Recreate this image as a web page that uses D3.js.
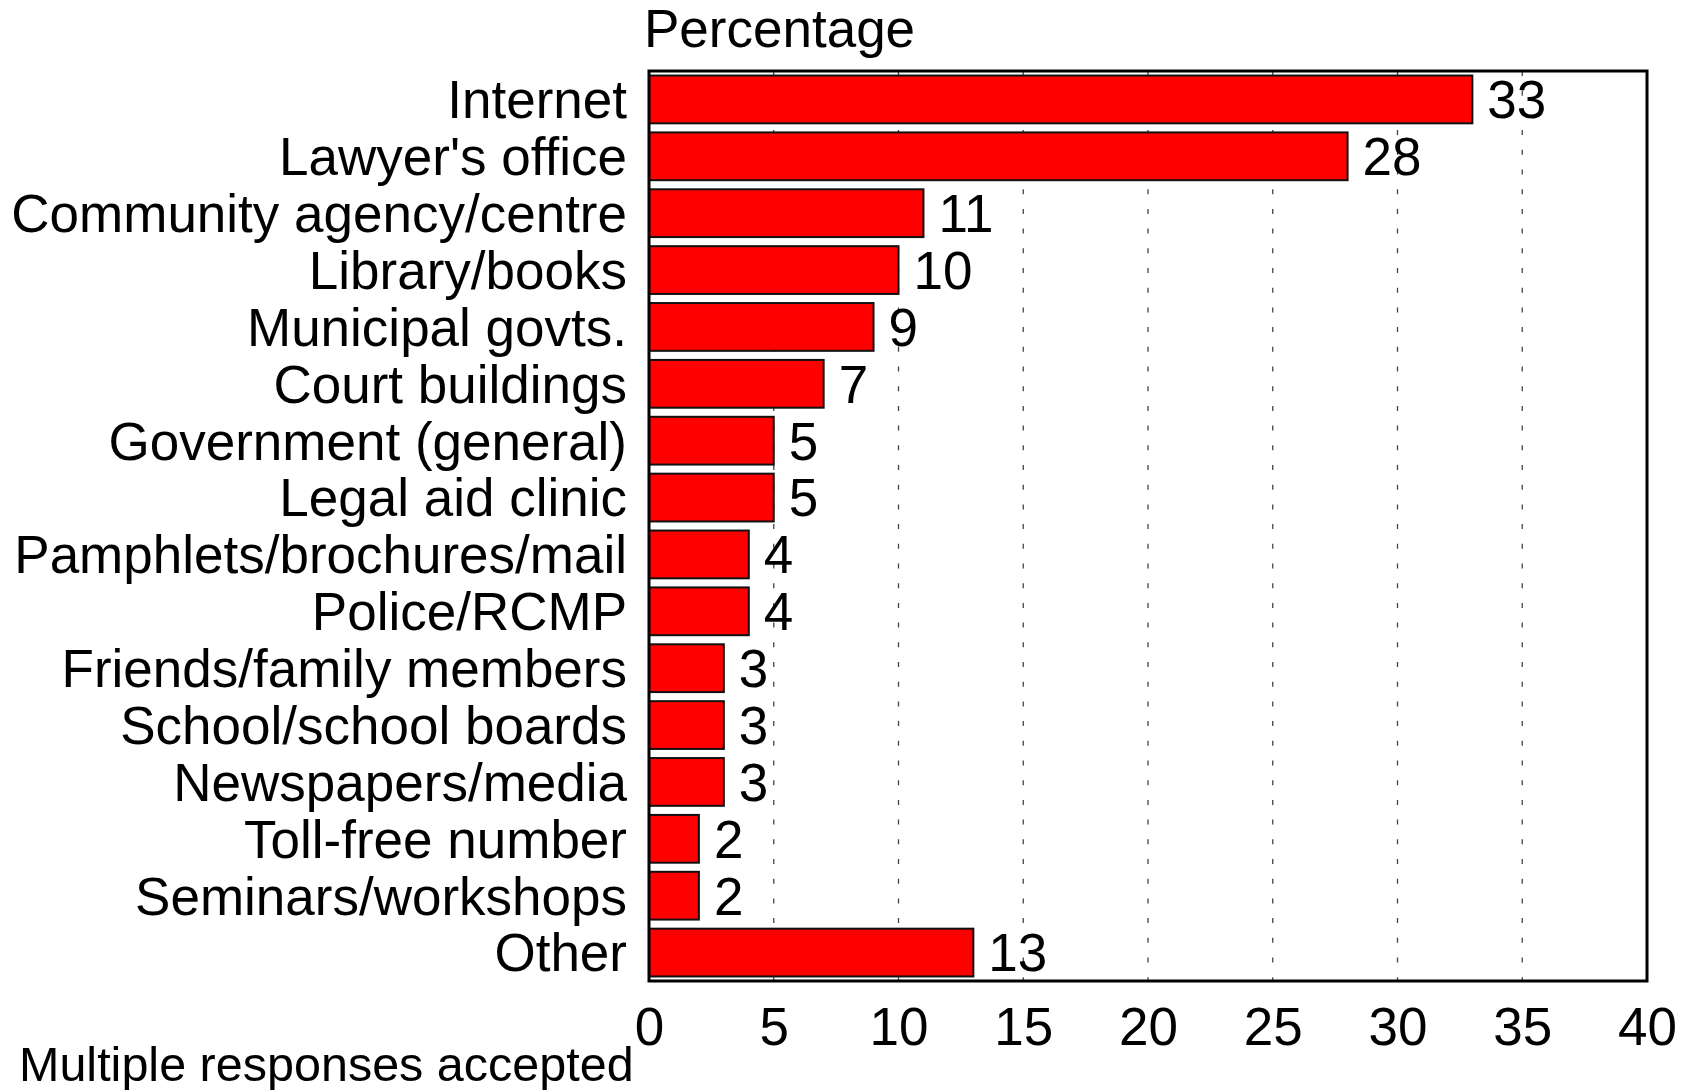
<!DOCTYPE html>
<html>
<head>
<meta charset="utf-8">
<script src="https://cdn.jsdelivr.net/npm/d3@7/dist/d3.min.js"></script>
<style>
  html, body { margin: 0; padding: 0; background: #fff; }
  svg { display: block; font-family: "Liberation Sans", Arial, sans-serif; }
</style>
</head>
<body>
<svg id="chart" width="1690" height="1090"></svg>
<script>
// Sources of legal information (percentage of respondents)
const categories = [
  "Internet", "Lawyer's office", "Community agency/centre", "Library/books",
  "Municipal govts.", "Court buildings", "Government (general)", "Legal aid clinic",
  "Pamphlets/brochures/mail", "Police/RCMP", "Friends/family members",
  "School/school boards", "Newspapers/media", "Toll-free number",
  "Seminars/workshops", "Other"
];
const values = [33, 28, 11, 10, 9, 7, 5, 5, 4, 4, 3, 3, 3, 2, 2, 13];
const xTicks = [0, 5, 10, 15, 20, 25, 30, 35, 40];
const axisTitle = "Percentage";
const footnote = "Multiple responses accepted";

const svg = d3.select("#chart");
const margin = { left: 649, right: 43, top: 71, bottom: 109 };
const W = 1690, H = 1090;
const fontSize = 53;

const x = d3.scaleLinear().domain([0, 40]).range([margin.left, W - margin.right]);
const y = d3.scaleBand().domain(categories)
  .range([margin.top, H - margin.bottom])
  .paddingInner(0.16).paddingOuter(0.08);

// vertical dashed gridlines
svg.append("g").selectAll("line")
  .data(xTicks.slice(1, -1))
  .join("line")
  .attr("x1", d => x(d)).attr("x2", d => x(d))
  .attr("y1", margin.top).attr("y2", H - margin.bottom)
  .attr("stroke", "#444").attr("stroke-width", 1.3)
  .attr("stroke-dasharray", "5,14.7");

// bars
svg.append("g").selectAll("rect")
  .data(values)
  .join("rect")
  .attr("x", x(0))
  .attr("y", (d, i) => y(categories[i]))
  .attr("width", d => x(d) - x(0))
  .attr("height", y.bandwidth())
  .attr("fill", "#ff0000")
  .attr("stroke", "#111").attr("stroke-width", 2);

// value labels
svg.append("g").selectAll("text")
  .data(values)
  .join("text")
  .attr("x", d => x(d) + 15)
  .attr("y", (d, i) => y(categories[i]) + y.bandwidth() / 2)
  .attr("dy", "0.355em")
  .attr("font-size", fontSize)
  .attr("fill", "#000")
  .text(d => d);

// category labels
svg.append("g").selectAll("text")
  .data(categories)
  .join("text")
  .attr("x", margin.left - 22)
  .attr("y", d => y(d) + y.bandwidth() / 2)
  .attr("dy", "0.355em")
  .attr("text-anchor", "end")
  .attr("font-size", fontSize)
  .attr("fill", "#000")
  .text(d => d);

// x axis tick labels
const xAxis = d3.axisBottom(x).tickValues(xTicks).tickSize(0).tickPadding(0).tickFormat(d3.format("d"));
const gx = svg.append("g")
  .attr("transform", `translate(0,${H - margin.bottom})`)
  .call(xAxis);
gx.select(".domain").remove();
gx.selectAll("text")
  .attr("y", 64).attr("dy", null)
  .attr("font-size", fontSize)
  .attr("font-family", "Liberation Sans, Arial, sans-serif")
  .attr("fill", "#000");

// plot frame
svg.append("rect")
  .attr("x", margin.left).attr("y", margin.top)
  .attr("width", x(40) - x(0))
  .attr("height", H - margin.bottom - margin.top)
  .attr("fill", "none").attr("stroke", "#000").attr("stroke-width", 3);

// axis title
svg.append("text")
  .attr("x", 644).attr("y", 47)
  .attr("font-size", fontSize)
  .attr("fill", "#000")
  .text(axisTitle);

// footnote
svg.append("text")
  .attr("x", 19).attr("y", 1081)
  .attr("font-size", 48.5)
  .attr("fill", "#000")
  .text(footnote);
</script>
</body>
</html>
